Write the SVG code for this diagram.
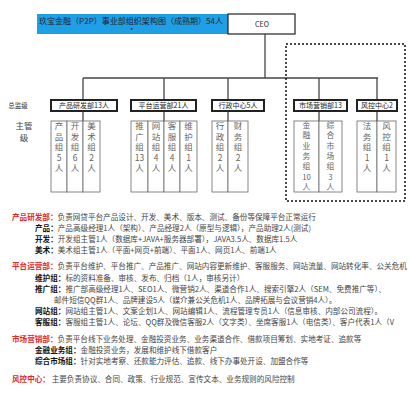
<svg xmlns="http://www.w3.org/2000/svg" width="409" height="400" viewBox="0 0 409 400">
<style>
text{font-family:"Noto Sans CJK SC","Noto Sans",sans-serif}
.l1 rect{fill:#fff;stroke:#222;stroke-width:2}
.l1 text{font-size:7px;fill:#222;text-anchor:middle}
.sub rect{fill:#fff;stroke:#666;stroke-width:0.8}
.sub text{font-size:8.5px;fill:#666;text-anchor:middle}
.sub text.t{font-size:7.8px}
.conn{stroke:#444;stroke-width:1.3;fill:none}
.b{font-size:7.6px;fill:#444}
.r{fill:#e0282a;font-weight:bold}
.k{fill:#111;font-weight:bold}
</style>
<rect width="409" height="400" fill="#fff"/>
<g id="title">
<rect x="37" y="14" width="191" height="20" fill="#1e9fe6"/>
<text x="39" y="23.5" font-size="7.9" fill="#223" textLength="184" lengthAdjust="spacingAndGlyphs">玖宝金融（P2P）事业部组织架构图（成熟期）54人</text>
<text x="130" y="33" font-size="7" fill="#223">*</text>
</g>
<g id="ceo">
<rect x="228" y="14" width="67" height="20" fill="#fff" stroke="#222" stroke-width="1.2"/>
<text x="262" y="27" font-size="7" fill="#222" text-anchor="middle">CEO</text>
</g>
<g id="levels">
<text x="18" y="107.5" font-size="6.5" fill="#333" text-anchor="middle">总监级</text>
<text x="24" y="129" font-size="8.5" fill="#445" text-anchor="middle">主管</text>
<text x="24" y="141" font-size="8.5" fill="#445" text-anchor="middle">级</text>
</g>
<g id="connectors" class="conn">
<line x1="265" y1="34" x2="265" y2="78"/>
<line x1="83" y1="78" x2="378" y2="78"/>
<line x1="83" y1="78" x2="83" y2="192"/>
<line x1="164" y1="78" x2="164" y2="192"/>
<line x1="228" y1="78" x2="228" y2="192"/>
<line x1="319" y1="78" x2="319" y2="192"/>
<line x1="377" y1="78" x2="377" y2="192"/>
</g>
<rect id="market-frame" x="286" y="44" width="119" height="157" fill="none" stroke="#111" stroke-width="1.5" stroke-dasharray="2,2"/>
<g id="dept-product">
<g class="sub">
<rect x="51" y="121" width="16" height="71"/><rect x="67" y="121" width="16" height="71"/><rect x="83" y="121" width="17" height="71"/>
<text x="59" y="129"><tspan x="59">产</tspan><tspan x="59" dy="10.5">品</tspan><tspan x="59" dy="10.5">组</tspan><tspan x="59" dy="10.5">5</tspan><tspan x="59" dy="10.5">人</tspan></text>
<text x="75" y="129"><tspan x="75">开</tspan><tspan x="75" dy="10.5">发</tspan><tspan x="75" dy="10.5">组</tspan><tspan x="75" dy="10.5">6</tspan><tspan x="75" dy="10.5">人</tspan></text>
<text x="91.5" y="129"><tspan x="91.5">美</tspan><tspan x="91.5" dy="10.5">术</tspan><tspan x="91.5" dy="10.5">组</tspan><tspan x="91.5" dy="10.5">2</tspan><tspan x="91.5" dy="10.5">人</tspan></text>
</g>
<g class="l1"><rect x="51" y="100" width="66" height="11"/><text x="84" y="108">产品研发部13人</text></g>
</g>
<g id="dept-platform">
<g class="sub">
<rect x="131" y="121" width="17" height="71"/><rect x="148" y="121" width="16" height="71"/><rect x="164" y="121" width="16" height="71"/><rect x="180" y="121" width="17" height="71"/>
<text x="139.5" y="129"><tspan x="139.5">推</tspan><tspan x="139.5" dy="10.5">广</tspan><tspan x="139.5" dy="10.5">组</tspan><tspan x="139.5" dy="10.5">13</tspan><tspan x="139.5" dy="10.5">人</tspan></text>
<text x="156" y="129"><tspan x="156">网</tspan><tspan x="156" dy="10.5">站</tspan><tspan x="156" dy="10.5">组</tspan><tspan x="156" dy="10.5">4</tspan><tspan x="156" dy="10.5">人</tspan></text>
<text x="172" y="129"><tspan x="172">客</tspan><tspan x="172" dy="10.5">服</tspan><tspan x="172" dy="10.5">组</tspan><tspan x="172" dy="10.5">4</tspan><tspan x="172" dy="10.5">人</tspan></text>
<text x="188.5" y="129"><tspan x="188.5">维</tspan><tspan x="188.5" dy="10.5">护</tspan><tspan x="188.5" dy="10.5">组</tspan><tspan x="188.5" dy="10.5">1</tspan><tspan x="188.5" dy="10.5">人</tspan></text>
</g>
<g class="l1"><rect x="131" y="100" width="65" height="11"/><text x="163.5" y="108">平台运营部21人</text></g>
</g>
<g id="dept-admin">
<g class="sub">
<rect x="212" y="121" width="16" height="71"/><rect x="228" y="121" width="20" height="71"/>
<text x="220" y="129"><tspan x="220">行</tspan><tspan x="220" dy="10.5">政</tspan><tspan x="220" dy="10.5">组</tspan><tspan x="220" dy="10.5">2</tspan><tspan x="220" dy="10.5">人</tspan></text>
<text x="238" y="129"><tspan x="238">财</tspan><tspan x="238" dy="10.5">务</tspan><tspan x="238" dy="10.5">组</tspan><tspan x="238" dy="10.5">2</tspan><tspan x="238" dy="10.5">人</tspan></text>
</g>
<g class="l1"><rect x="212" y="100" width="52" height="11"/><text x="238" y="108">行政中心5人</text></g>
</g>
<g id="dept-market">
<g class="sub">
<rect x="294" y="121" width="25" height="71"/><rect x="319" y="121" width="23" height="71"/>
<text class="t" x="306.5" y="128"><tspan x="306.5">金</tspan><tspan x="306.5" dy="10.35">融</tspan><tspan x="306.5" dy="10.35">业</tspan><tspan x="306.5" dy="10.35">务</tspan><tspan x="306.5" dy="10.35">组</tspan><tspan x="306.5" dy="10.35">10</tspan><tspan x="306.5" dy="10.35">人</tspan></text>
<text class="t" x="330.5" y="128"><tspan x="330.5">综</tspan><tspan x="330.5" dy="10.35">合</tspan><tspan x="330.5" dy="10.35">市</tspan><tspan x="330.5" dy="10.35">场</tspan><tspan x="330.5" dy="10.35">组</tspan><tspan x="330.5" dy="10.35">3</tspan><tspan x="330.5" dy="10.35">人</tspan></text>
</g>
<g class="l1"><rect x="294" y="100" width="53" height="11"/><text x="320.5" y="108">市场营销部13</text></g>
</g>
<g id="dept-risk">
<g class="sub">
<rect x="357" y="121" width="20" height="71"/><rect x="377" y="121" width="19" height="71"/>
<text x="367" y="129"><tspan x="367">法</tspan><tspan x="367" dy="10.5">务</tspan><tspan x="367" dy="10.5">组</tspan><tspan x="367" dy="10.5">1</tspan><tspan x="367" dy="10.5">人</tspan></text>
<text x="386.5" y="129"><tspan x="386.5">风</tspan><tspan x="386.5" dy="10.5">控</tspan><tspan x="386.5" dy="10.5">组</tspan><tspan x="386.5" dy="10.5">1</tspan><tspan x="386.5" dy="10.5">人</tspan></text>
</g>
<g class="l1"><rect x="357" y="100" width="40" height="11"/><text x="377" y="108">风控中心2</text></g>
</g>
<g id="notes" class="b">
<text x="12" y="220"><tspan class="r">产品研发部：</tspan>负责网贷平台产品设计、开发、美术、版本、测试、备份等保障平台正常运行</text>
<text x="35" y="231"><tspan class="k">产品：</tspan>产品高级经理1人（架构）、产品经理2人（原型与逻辑），产品助理2人(测试)</text>
<text x="35" y="242"><tspan class="k">开发：</tspan>开发组主管1人（数据库+JAVA+服务器部署），JAVA3.5人、数据库1.5人</text>
<text x="35" y="253"><tspan class="k">美术：</tspan>美术组主管1人（平面+网页+前端）、平面1人、网页1人、前端1人</text>
<text x="12" y="269"><tspan class="r">平台运营部：</tspan>负责平台维护、平台推广、产品推广、网站内容更新维护、客服服务、网站流量、网站转化率、公关危机</text>
<text x="35" y="281"><tspan class="k">维护组：</tspan>标的资料准备、审核、发布、归档（1人，审核另计）</text>
<text x="35" y="292"><tspan class="k">推广组：</tspan>推广部高级经理1人、SEO1人、微营销2人、渠道合作1人、搜索引擎2人（SEM、免费推广等）、</text>
<text x="54" y="303">邮件短信QQ群1人、品牌建设5人（媒介兼公关危机1人、品牌拓展与会议营销4人）。</text>
<text x="35" y="314"><tspan class="k">网站组：</tspan>网站组主管1人、文案企划1人、网站编辑1人、流程管理专员1人（信息审核、内部公司流程）。</text>
<text x="35" y="325"><tspan class="k">客服组：</tspan>客服组主管1人、论坛、QQ群及微信客服2人（文字类）、坐席客服1人（电信类）、客户代表1人（V</text>
<text x="12" y="342"><tspan class="r">市场营销部：</tspan>负责平台线下业务处理、金融投资业务、业务渠道合作、借款项目筹划、实地考证、追款等</text>
<text x="35" y="353"><tspan class="k">金融业务组：</tspan>金融投资业务，发展和维护线下借款客户</text>
<text x="35" y="364"><tspan class="k">综合市场组：</tspan>针对实地考察、还款能力评估、追款、线下办事处开设、加盟合作等</text>
<text x="12" y="382"><tspan class="r">风控中心：</tspan> 主要负责协议、合同、政策、行业规范、宣传文本、业务规则的风险控制</text>
</g>
</svg>
